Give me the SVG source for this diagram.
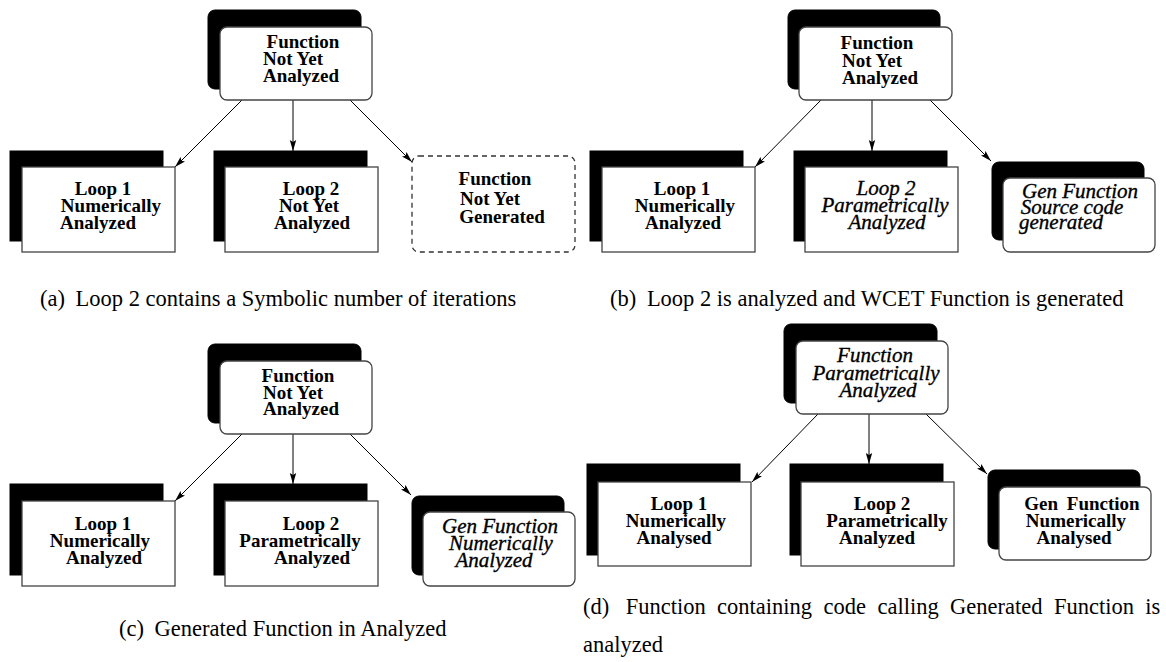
<svg xmlns="http://www.w3.org/2000/svg" width="1166" height="662" viewBox="0 0 1166 662">
  <defs>
    <marker id="arrow" markerUnits="userSpaceOnUse" markerWidth="12" markerHeight="8" refX="11" refY="4" orient="auto">
      <path d="M0,0.8 L11,4 L0,7.2 L2,4 z" fill="#000"/>
    </marker>
  </defs>
  <style>
    .bg { fill: #fff; }
    .shadow { fill: #000; stroke: #000; stroke-width: 1; }
    .box { fill: #fff; stroke: #444; stroke-width: 1.3; }
    .dashed { fill: #fff; stroke: #333; stroke-width: 1.3; stroke-dasharray: 5 4; }
    .edge { stroke: #000; stroke-width: 1; fill: none; marker-end: url(#arrow); }
    .lbl { font-family: "Liberation Serif", "Times New Roman", serif; font-size: 19px; font-weight: bold; fill: #000; text-anchor: middle; }
    .ital { font-family: "Liberation Serif", "Times New Roman", serif; font-size: 21px; font-style: italic; fill: #000; text-anchor: middle; stroke: #000; stroke-width: 0.35; }
    .cap { font-family: "Liberation Serif", "Times New Roman", serif; font-size: 22.5px; fill: #000; }
  </style>
  <rect class="bg" x="0" y="0" width="1166" height="662"/>

  <!-- connectors -->
  <g id="connectors">
    <line class="edge" x1="242" y1="100" x2="175" y2="167"/>
    <line class="edge" x1="293" y1="100" x2="293" y2="151"/>
    <line class="edge" x1="350" y1="100" x2="412" y2="162"/>

    <line class="edge" x1="821" y1="100" x2="755" y2="167"/>
    <line class="edge" x1="872" y1="100" x2="872" y2="151"/>
    <line class="edge" x1="930" y1="100" x2="991" y2="161"/>

    <line class="edge" x1="242" y1="434" x2="175" y2="501"/>
    <line class="edge" x1="293" y1="434" x2="293" y2="484"/>
    <line class="edge" x1="350" y1="434" x2="411" y2="495"/>

    <line class="edge" x1="818" y1="414" x2="752" y2="482"/>
    <line class="edge" x1="869" y1="414" x2="869" y2="464"/>
    <line class="edge" x1="926" y1="414" x2="987" y2="474"/>
  </g>

  <!-- (a) -->
  <g id="a-function">
    <rect class="shadow" x="208" y="10" width="153" height="79" rx="7"/>
    <rect class="box" x="220" y="27" width="152" height="73" rx="7"/>
    <text class="lbl" x="303" y="48">Function</text>
    <text class="lbl" x="293" y="65">Not Yet</text>
    <text class="lbl" x="301" y="82">Analyzed</text>
  </g>
  <g id="a-loop1">
    <rect class="shadow" x="10" y="151" width="153" height="90"/>
    <rect class="box" x="22" y="167" width="153" height="85"/>
    <text class="lbl" x="103" y="195">Loop 1</text>
    <text class="lbl" x="111" y="212">Numerically</text>
    <text class="lbl" x="98" y="229">Analyzed</text>
  </g>
  <g id="a-loop2">
    <rect class="shadow" x="214" y="151" width="153" height="90"/>
    <rect class="box" x="225" y="167" width="153" height="85"/>
    <text class="lbl" x="311" y="195">Loop 2</text>
    <text class="lbl" x="309" y="212">Not Yet</text>
    <text class="lbl" x="312" y="229">Analyzed</text>
  </g>
  <g id="a-genfunction">
    <rect class="dashed" x="412" y="156" width="163" height="96" rx="7"/>
    <text class="lbl" x="495" y="185">Function</text>
    <text class="lbl" x="490" y="205">Not Yet</text>
    <text class="lbl" x="502" y="223">Generated</text>
  </g>
  <text class="cap" x="40" y="306">(a)<tspan dx="5"> Loop 2 contains a Symbolic number of iterations</tspan></text>

  <!-- (b) -->
  <g id="b-function">
    <rect class="shadow" x="788" y="10" width="152" height="79" rx="7"/>
    <rect class="box" x="799" y="27" width="153" height="73" rx="7"/>
    <text class="lbl" x="877" y="49">Function</text>
    <text class="lbl" x="872" y="67">Not Yet</text>
    <text class="lbl" x="880" y="84">Analyzed</text>
  </g>
  <g id="b-loop1">
    <rect class="shadow" x="590" y="151" width="153" height="90"/>
    <rect class="box" x="602" y="167" width="153" height="85"/>
    <text class="lbl" x="682" y="195">Loop 1</text>
    <text class="lbl" x="685" y="212">Numerically</text>
    <text class="lbl" x="683" y="229">Analyzed</text>
  </g>
  <g id="b-loop2">
    <rect class="shadow" x="794" y="151" width="153" height="90"/>
    <rect class="box" x="805" y="167" width="153" height="85"/>
    <text class="ital" x="886" y="195">Loop 2</text>
    <text class="ital" x="885" y="212">Parametrically</text>
    <text class="ital" x="887" y="229">Analyzed</text>
  </g>
  <g id="b-genfunction">
    <rect class="shadow" x="992" y="162" width="152" height="78" rx="7"/>
    <rect class="box" x="1003" y="178" width="152" height="74" rx="7"/>
    <text class="ital" x="1080" y="198">Gen Function</text>
    <text class="ital" x="1072" y="214">Source code</text>
    <text class="ital" x="1061" y="229">generated</text>
  </g>
  <text class="cap" x="610" y="306">(b)<tspan dx="5"> Loop 2 is analyzed and WCET Function is generated</tspan></text>

  <!-- (c) -->
  <g id="c-function">
    <rect class="shadow" x="208" y="344" width="153" height="79" rx="7"/>
    <rect class="box" x="220" y="361" width="152" height="73" rx="7"/>
    <text class="lbl" x="298" y="382">Function</text>
    <text class="lbl" x="293" y="399">Not Yet</text>
    <text class="lbl" x="301" y="415">Analyzed</text>
  </g>
  <g id="c-loop1">
    <rect class="shadow" x="10" y="484" width="153" height="91"/>
    <rect class="box" x="22" y="501" width="153" height="85"/>
    <text class="lbl" x="103" y="530">Loop 1</text>
    <text class="lbl" x="100" y="547">Numerically</text>
    <text class="lbl" x="104" y="564">Analyzed</text>
  </g>
  <g id="c-loop2">
    <rect class="shadow" x="214" y="484" width="153" height="91"/>
    <rect class="box" x="225" y="501" width="153" height="85"/>
    <text class="lbl" x="311" y="530">Loop 2</text>
    <text class="lbl" x="300" y="547">Parametrically</text>
    <text class="lbl" x="312" y="564">Analyzed</text>
  </g>
  <g id="c-genfunction">
    <rect class="shadow" x="412" y="496" width="152" height="79" rx="7"/>
    <rect class="box" x="423" y="512" width="152" height="74" rx="7"/>
    <text class="ital" x="500" y="533">Gen Function</text>
    <text class="ital" x="501" y="550">Numerically</text>
    <text class="ital" x="494" y="567">Analyzed</text>
  </g>
  <text class="cap" x="119" y="636">(c)<tspan dx="5"> Generated Function in Analyzed</tspan></text>

  <!-- (d) -->
  <g id="d-function">
    <rect class="shadow" x="784" y="324" width="153" height="79" rx="7"/>
    <rect class="box" x="796" y="341" width="152" height="73" rx="7"/>
    <text class="ital" x="875" y="362">Function</text>
    <text class="ital" x="876" y="380">Parametrically</text>
    <text class="ital" x="878" y="397">Analyzed</text>
  </g>
  <g id="d-loop1">
    <rect class="shadow" x="587" y="464" width="153" height="91"/>
    <rect class="box" x="598" y="482" width="153" height="84"/>
    <text class="lbl" x="679" y="510">Loop 1</text>
    <text class="lbl" x="676" y="527">Numerically</text>
    <text class="lbl" x="674" y="544">Analysed</text>
  </g>
  <g id="d-loop2">
    <rect class="shadow" x="790" y="464" width="153" height="91"/>
    <rect class="box" x="801" y="482" width="153" height="84"/>
    <text class="lbl" x="882" y="510">Loop 2</text>
    <text class="lbl" x="887" y="527">Parametrically</text>
    <text class="lbl" x="877" y="544">Analyzed</text>
  </g>
  <g id="d-genfunction">
    <rect class="shadow" x="988" y="470" width="152" height="79" rx="7"/>
    <rect class="box" x="999" y="487" width="152" height="73" rx="7"/>
    <text class="lbl" x="1082" y="510" word-spacing="4">Gen Function</text>
    <text class="lbl" x="1076" y="527">Numerically</text>
    <text class="lbl" x="1074" y="544">Analysed</text>
  </g>
  <text class="cap" x="583" y="614" word-spacing="5.8">(d)<tspan dx="5"> Function containing code calling Generated Function is</tspan></text>
  <text class="cap" x="583" y="652">analyzed</text>
</svg>
